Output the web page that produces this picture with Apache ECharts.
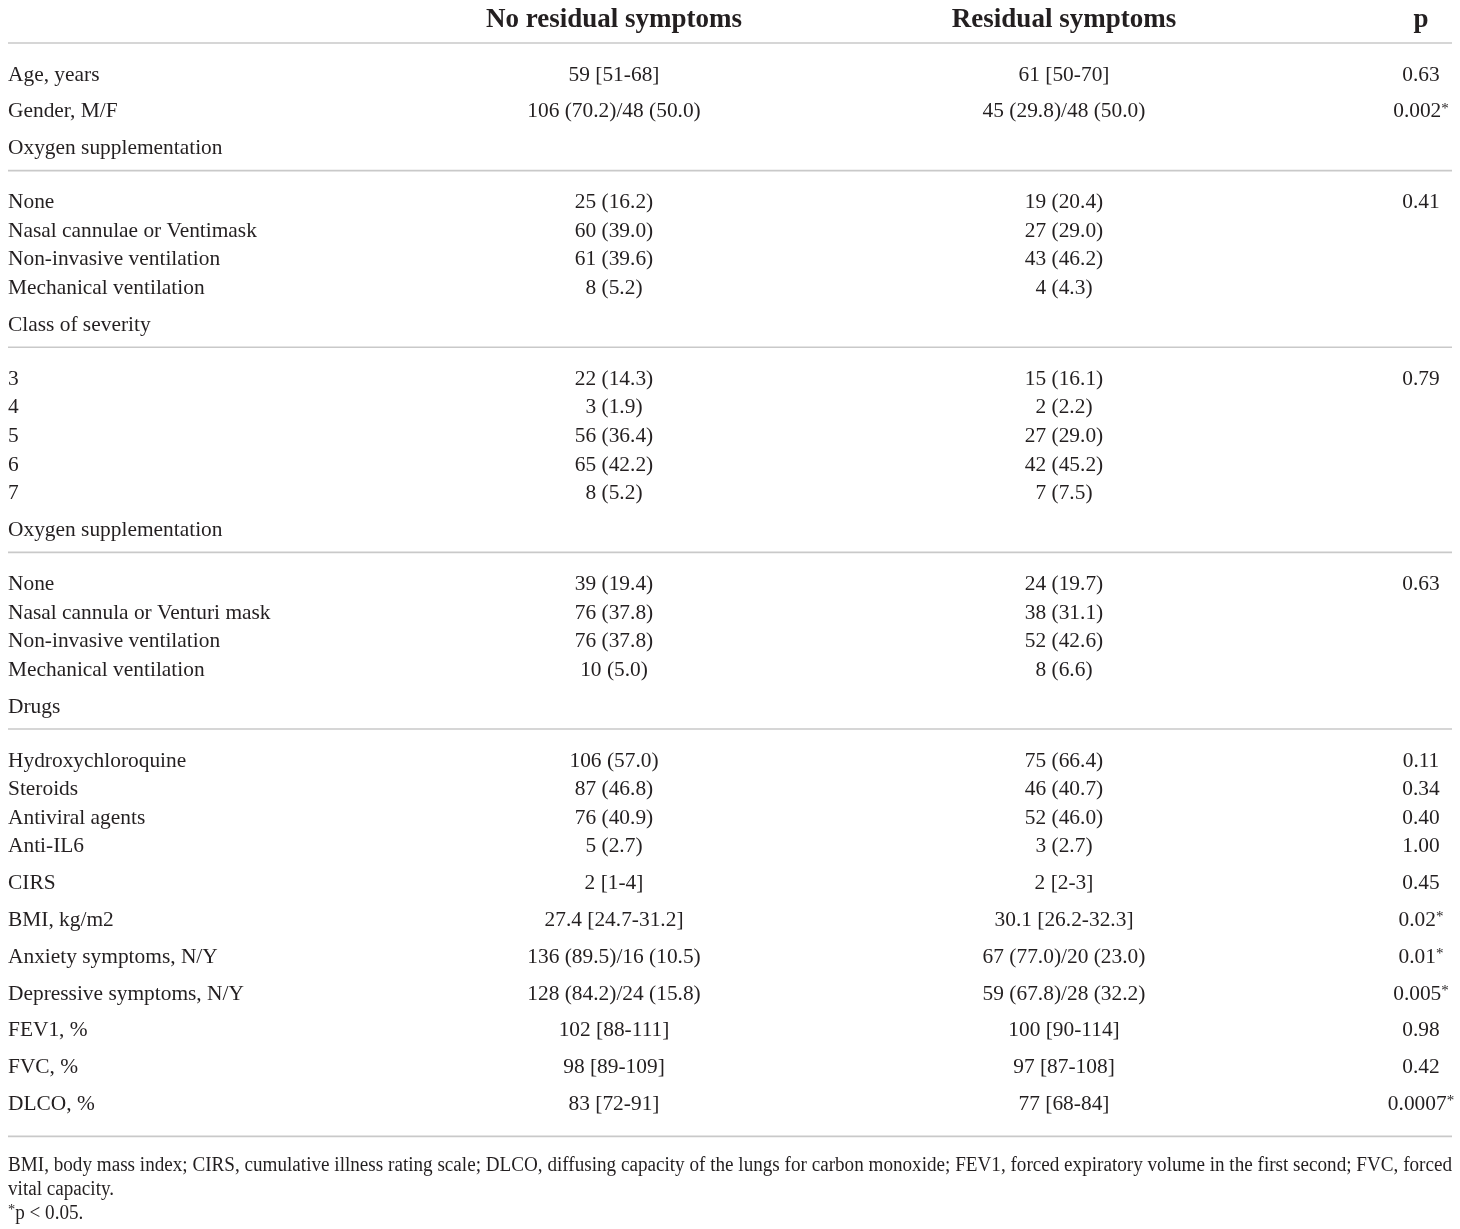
<!DOCTYPE html>
<html>
<head>
<meta charset="utf-8">
<title>Residual symptoms table</title>
<script src="https://cdn.jsdelivr.net/npm/echarts@6/dist/echarts.min.js"></script>
<style>
html,body{margin:0;padding:0;background:#fff;}
#chart{width:1460px;height:1229px;}
</style>
</head>
<body>
<div id="chart"></div>
<script>

// table data
const headers = ['No residual symptoms', 'Residual symptoms', 'p']

const rowLabels = [
  'Age, years', 'Gender, M/F', 'Oxygen supplementation',
  'None', 'Nasal cannulae or Ventimask', 'Non-invasive ventilation', 'Mechanical ventilation',
  'Class of severity',
  '3', '4', '5', '6', '7',
  'Oxygen supplementation',
  'None', 'Nasal cannula or Venturi mask', 'Non-invasive ventilation', 'Mechanical ventilation',
  'Drugs',
  'Hydroxychloroquine', 'Steroids', 'Antiviral agents', 'Anti-IL6',
  'CIRS', 'BMI, kg/m2', 'Anxiety symptoms, N/Y', 'Depressive symptoms, N/Y',
  'FEV1, %', 'FVC, %', 'DLCO, %'
]

// row: plain row, section: heading followed by a rule, sub: row inside a section
const rowKinds = [
  'row', 'row', 'section',
  'sub', 'sub', 'sub', 'sub',
  'section',
  'sub', 'sub', 'sub', 'sub', 'sub',
  'section',
  'sub', 'sub', 'sub', 'sub',
  'section',
  'sub', 'sub', 'sub', 'sub',
  'row', 'row', 'row', 'row',
  'row', 'row', 'row'
]

const noResidual = [
  '59 [51-68]', '106 (70.2)/48 (50.0)', '',
  '25 (16.2)', '60 (39.0)', '61 (39.6)', '8 (5.2)',
  '',
  '22 (14.3)', '3 (1.9)', '56 (36.4)', '65 (42.2)', '8 (5.2)',
  '',
  '39 (19.4)', '76 (37.8)', '76 (37.8)', '10 (5.0)',
  '',
  '106 (57.0)', '87 (46.8)', '76 (40.9)', '5 (2.7)',
  '2 [1-4]', '27.4 [24.7-31.2]', '136 (89.5)/16 (10.5)', '128 (84.2)/24 (15.8)',
  '102 [88-111]', '98 [89-109]', '83 [72-91]'
]

const residual = [
  '61 [50-70]', '45 (29.8)/48 (50.0)', '',
  '19 (20.4)', '27 (29.0)', '43 (46.2)', '4 (4.3)',
  '',
  '15 (16.1)', '2 (2.2)', '27 (29.0)', '42 (45.2)', '7 (7.5)',
  '',
  '24 (19.7)', '38 (31.1)', '52 (42.6)', '8 (6.6)',
  '',
  '75 (66.4)', '46 (40.7)', '52 (46.0)', '3 (2.7)',
  '2 [2-3]', '30.1 [26.2-32.3]', '67 (77.0)/20 (23.0)', '59 (67.8)/28 (32.2)',
  '100 [90-114]', '97 [87-108]', '77 [68-84]'
]

const pValues = [
  '0.63', '0.002*', '',
  '0.41', '', '', '',
  '',
  '0.79', '', '', '', '',
  '',
  '0.63', '', '', '',
  '',
  '0.11', '0.34', '0.40', '1.00',
  '0.45', '0.02*', '0.01*', '0.005*',
  '0.98', '0.42', '0.0007*'
]

const footnotes = [
  'BMI, body mass index; CIRS, cumulative illness rating scale; DLCO, diffusing capacity of the lungs for carbon monoxide; FEV1, forced expiratory volume in the first second; FVC, forced',
  'vital capacity.',
  '*p < 0.05.'
]

// layout
const W = 1460, H = 1229
const left = 8, right = 1452
const colX = [left, 614, 1064, 1421]
const serif = '"Liberation Serif", "DejaVu Serif", serif'
const ink = '#231f20'
const ruleColor = '#c9c9c9'

const headerY = 18
const firstGap = 25, afterRule = 30
const rowStep = 36.8, subStep = 28.6, sectionRule = 24
const tailRule = 34, noteGap = 27, noteStep = 24
const textShift = 2

// work out row positions and rule positions
const rowY = []
const rules = [headerY + firstGap]
let y = headerY + firstGap + afterRule
for (let i = 0; i < rowLabels.length; i++) {
  rowY.push(y)
  const k = rowKinds[i]
  if (k === 'section') {
    rules.push(y + sectionRule)
    y += sectionRule + afterRule
  } else if (k === 'sub' && rowKinds[i + 1] === 'sub') {
    y += subStep
  } else {
    y += rowStep
  }
}
const lastY = rowY[rowY.length - 1]
rules.push(lastY + tailRule)
const noteY = footnotes.map((_, i) => lastY + tailRule + noteGap + i * noteStep)

// footnote is set condensed to fill the full width
const ctx = document.createElement('canvas').getContext('2d')
ctx.font = '20px ' + serif
const noteScale = (right - left) / ctx.measureText(footnotes[0]).width

function pText(s) {
  if (s.endsWith('*')) return s.slice(0, -1) + '{sup|*}'
  return s
}

function txt(pt, text, align, opts) {
  return {
    type: 'text',
    x: pt[0],
    y: pt[1] + textShift,
    style: Object.assign({
      text: text,
      fill: ink,
      fontFamily: serif,
      fontSize: 21.4,
      align: align,
      verticalAlign: 'middle',
      rich: { sup: { fontSize: 15, fontFamily: serif, fill: ink, verticalAlign: 'top', padding: [0, 0, 6, 0] } }
    }, opts || {})
  }
}

const chart = echarts.init(document.getElementById('chart'), null, { renderer: 'canvas' })

chart.setOption({
  backgroundColor: '#fff',
  animation: false,
  grid: { left: 0, right: 0, top: 0, bottom: 0 },
  xAxis: { type: 'value', min: 0, max: W, show: false },
  yAxis: { type: 'value', min: 0, max: H, inverse: true, show: false },
  series: [
    {
      name: 'rules',
      type: 'custom',
      data: rules.map(v => [v]),
      renderItem: function (params, api) {
        const a = api.coord([left, api.value(0)])
        const b = api.coord([right, api.value(0)])
        return {
          type: 'line',
          shape: { x1: a[0], y1: a[1], x2: b[0], y2: b[1] },
          style: { stroke: ruleColor, lineWidth: 1.6 }
        }
      }
    },
    {
      name: 'header',
      type: 'custom',
      data: headers.map((h, i) => [i + 1, headerY]),
      renderItem: function (params, api) {
        const i = api.value(0)
        const pt = api.coord([colX[i], api.value(1)])
        return txt(pt, headers[i - 1], 'center', { fontSize: 27, fontWeight: 'bold' })
      }
    },
    {
      name: 'rows',
      type: 'custom',
      data: rowLabels.map((_, i) => [i, rowY[i]]),
      renderItem: function (params, api) {
        const i = api.value(0)
        const yy = api.value(1)
        return {
          type: 'group',
          children: [
            txt(api.coord([colX[0], yy]), rowLabels[i], 'left'),
            txt(api.coord([colX[1], yy]), noResidual[i], 'center'),
            txt(api.coord([colX[2], yy]), residual[i], 'center'),
            txt(api.coord([colX[3], yy]), pText(pValues[i]), 'center')
          ]
        }
      }
    },
    {
      name: 'notes',
      type: 'custom',
      data: footnotes.map((_, i) => [i, noteY[i]]),
      renderItem: function (params, api) {
        const i = api.value(0)
        const pt = api.coord([left, api.value(1)])
        const t = txt(pt, i === 2 ? '{sup|*}p < 0.05.' : footnotes[i], 'left', { fontSize: 20 })
        t.scaleX = noteScale
        return t
      }
    }
  ]
})

</script>
</body>
</html>
